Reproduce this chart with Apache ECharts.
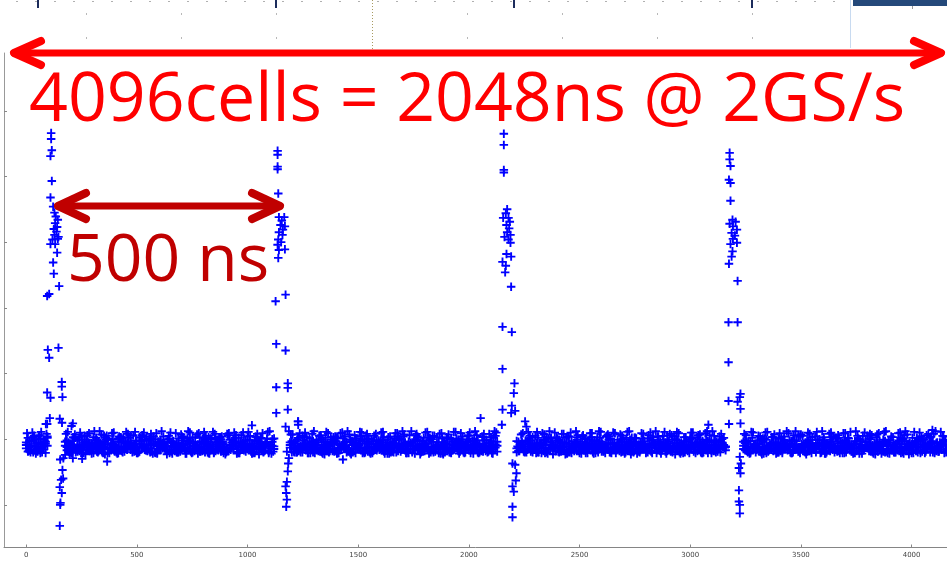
<!DOCTYPE html>
<html><head><meta charset="utf-8">
<script src="https://cdn.jsdelivr.net/npm/echarts@6/dist/echarts.min.js"></script>
<style>html,body{margin:0;padding:0;background:#fff;}#c{width:947px;height:562px;}</style>
</head><body><div id="c"></div>
<script>
// ---- data ----
const CELL_STEP = 16;   // sample spacing (cells) of the overlaid baseline traces
const OFFSET_D = 8, OFFSET_G = 4, OFFSET_H = 12; // sampling phase of the other trace groups
const xTicks = [0, 500, 1000, 1500, 2000, 2500, 3000, 3500, 4000];
const yTicks = [-100, 0, 100, 200, 300, 400, 500];

// group 1 traces (cells 0,16,32,...)
const traceA = [
 -5,-12,3,-18,-8,-1,4,null,null,null,null,-10,-19,-3,-14,2,-9,-16,-6,-21,
 -2,-11,5,-15,-7,-19,-4,1,-13,-8,-20,-6,3,-12,-17,-1,-9,-22,-5,-14,
 0,-10,-18,-7,4,-13,-3,-20,-9,-15,2,-6,-17,-11,-1,-19,-8,6,-14,-4,
 -21,-10,-2,-16,-7,3,-12,-18,-5,-9,1,null,null,null,null,-8,-15,2,-20,-6,
 -11,-3,-17,5,-9,-14,-1,-19,-7,-12,4,-16,-5,-21,-10,0,-13,-8,-18,-2,
 -15,3,-9,-20,-6,-12,-1,-17,-4,-11,6,-14,-19,-7,-2,-16,-10,-22,-5,1,
 -13,-8,-18,-3,-11,5,-15,-6,-20,-9,-1,-14,2,-10,null,null,null,null,null,-12,
 -4,-17,1,-9,-21,-6,-13,3,-16,-8,-2,-19,-11,4,-14,-5,-18,-7,0,-12,
 -20,-3,-10,-15,5,-8,-17,-1,-13,-22,-6,2,-11,-16,-4,-19,-9,3,-14,-7,
 -1,-18,-10,4,-15,-5,-20,-8,1,-12,-17,-3,-13,6,-9,-16,-2,-11,null,null,
 null,null,null,-6,-19,2,-10,-15,-4,-21,-8,3,-13,-18,-1,-11,-7,-16,5,-12,
 -20,-3,-9,-14,0,-17,-6,-12,4,-19,-10,-2,-15,-8,-21,1,-13,-5,-18,-9,
 3,-16,-7,-11,-1,-20,-4,-14,6,-10,-17,-3,-12,-8,-19,2,-15,-6,-11,-2,-18
];
const traceB = [
 -14,-3,-20,-7,1,-16,-10,null,null,null,null,-24,-5,-13,3,-18,-8,-1,-15,-11,
 -19,-6,-12,0,-17,-9,-21,-4,-14,2,-10,-18,-7,-13,-2,-20,4,-11,-16,-8,
 -3,-19,-13,1,-9,-22,-6,-15,-11,3,-17,-4,-12,-20,-8,0,-14,-18,-5,-10,
 2,-16,-7,-13,-21,-3,-11,-18,1,-9,-15,null,null,null,null,-20,-4,-12,5,-17,
 -8,-14,-2,-19,-10,-6,3,-15,-21,-11,-4,-17,-9,1,-13,-18,-6,-20,-3,-12,
 -7,-19,-1,-14,-10,4,-16,-8,-21,-5,-12,-17,-3,-11,2,-20,-9,-14,-6,-18,
 0,-10,-15,-7,-20,-2,-13,-9,-18,3,-16,-6,-11,-19,null,null,null,null,null,-4,
 -12,-19,-7,3,-15,-10,-2,-20,-8,-14,1,-17,-5,-11,-21,-6,-13,4,-18,-9,
 -3,-16,-11,-19,-6,1,-14,-9,-20,-4,-12,-17,2,-8,-15,-21,-7,-1,-13,-18,
 -10,5,-16,-6,-12,-19,-3,-14,-9,-21,0,-11,-17,-5,-13,-8,-20,2,null,null,
 null,null,null,-17,-3,-12,-20,-8,1,-14,-10,-18,-5,-15,4,-9,-21,-2,-13,-7,
 -11,-18,3,-6,-15,-9,-20,-1,-13,-17,-4,-10,2,-19,-7,-14,-22,-3,-11,-16,
 -8,-13,-1,-19,-5,-10,-17,2,-14,-7,-21,-4,-12,0,-16,-9,-3,-18,-13,4,-10
];
const traceC = [
 -9,-17,-2,-11,-21,-6,2,null,null,null,null,-4,-15,-9,-20,-1,-13,-7,-18,3,
 -10,-16,-4,-21,-8,-13,1,-18,-6,-11,-15,-2,-19,-9,4,-14,-7,-20,-3,-12,
 -17,-5,-11,-20,-2,-8,-16,3,-13,-19,-7,-10,1,-21,-4,-15,-12,-18,-9,2,
 -13,-6,-19,-1,-10,-15,-4,-20,-8,-14,-11,null,null,null,null,-3,-10,-18,-7,-13,
 1,-20,-9,-13,-4,-18,-11,-6,2,-16,-10,-19,-3,-14,-8,-21,5,-12,-7,-17,
 -4,-13,-22,-8,1,-18,-10,-5,-15,-20,-2,-9,-13,-6,-19,-11,3,-16,-12,-8,
 -21,-5,-1,-14,-9,-17,-3,-12,-7,-19,-13,-10,-16,-4,null,null,null,null,null,-18,
 -9,-2,-14,-20,-6,-11,-18,-4,1,-13,-10,-7,-16,-20,-3,-12,-8,-15,-21,-1,
 -11,-7,2,-18,-13,-20,-5,-10,-3,-15,-9,-19,-6,-12,1,-14,-17,-8,-21,-4,
 -13,-7,-19,-11,-2,-9,-14,-17,-5,-6,-10,-21,-1,-15,-18,-4,-12,-9,null,null,
 null,null,null,-2,-11,-14,-7,-19,-12,-1,-16,-9,-20,-6,-13,-17,-3,-10,-19,-14,
 -5,-9,-15,-20,-7,-2,-12,-18,-10,-6,-14,-21,-8,-13,-3,-17,-9,-11,1,-20,
 -13,-4,-19,-7,-15,-9,-12,-21,-3,-16,-8,-13,-1,-19,-6,-11,-20,-14,-5,-9,-15
];
// group 2 traces (cells 8,24,40,...)
const traceD = [
 -8,-16,0,-12,-20,-4,null,null,null,null,null,-17,-7,-13,-1,-21,-10,-5,-15,-2,
 -18,-9,2,-14,-6,-20,-11,-3,-16,5,-8,-19,-12,-1,-15,-7,-21,-4,-10,-17,
 1,-13,-6,-19,-9,-2,-16,-11,-22,-5,-14,3,-8,-18,-12,-4,-20,-1,-15,-10,
 -7,-17,4,-12,-21,-3,-14,-9,-19,0,null,null,null,null,-13,-6,-20,-10,-2,-16,
 -11,-21,-5,-15,2,-9,-18,-3,-13,-7,-20,-1,-16,-10,4,-14,-6,-19,-12,-2,
 -17,-8,-22,-4,-13,1,-10,-18,-6,-15,-1,-20,-9,3,-12,-16,-5,-21,-7,-14,
 -3,-11,-19,-8,0,-15,-6,-20,-12,-2,-17,-9,5,null,null,null,null,null,-14,-7,
 -19,-4,-11,-16,2,-9,-21,-13,-5,-18,-1,-12,-7,-20,-15,3,-10,-17,-6,-14,
 -2,-20,-8,-13,4,-17,-11,-5,-19,-9,-1,-15,-22,-6,-12,1,-18,-10,-3,-16,
 -7,-13,-20,0,-11,-17,-4,-9,-19,3,-14,-6,-21,-10,-2,-15,-8,-12,null,null,
 null,null,-10,-18,-3,-14,-7,-20,1,-12,-16,-5,-11,-21,-9,-2,-17,-13,4,-8,
 -19,-6,-15,-1,-11,-22,-9,-4,-16,2,-13,-20,-7,-10,-18,-3,-14,5,-12,-17,
 -5,-10,-20,-2,-15,-8,-18,1,-12,-6,-21,-11,-3,-16,-9,4,-13,-19,-7,-1
];
const traceE = [
 -19,-2,-11,4,-15,-7,null,null,null,null,null,-12,-20,2,-9,-16,-4,-13,-22,-6,
 -3,-14,-8,-21,-1,-12,-17,3,-10,-5,-19,-13,-2,-16,-9,1,-20,-7,-14,-11,
 -16,-6,-20,-10,2,-14,-4,-18,-8,-12,-1,-21,-15,-5,3,-11,-17,-9,-2,-19,
 -12,-3,-15,-8,-20,-6,1,-17,-11,-4,null,null,null,null,-9,-19,-1,-14,-7,-21,
 -4,-13,-18,-1,-10,-20,-7,2,-15,-11,-5,-19,-8,-14,-2,-21,-12,0,-16,-9,
 -1,-18,-11,-6,-20,-14,4,-9,-16,-3,-12,-19,-7,-15,0,-10,-21,-5,-13,-8,
 -17,1,-12,-20,-5,-9,-15,-2,-18,-11,-6,-21,-13,null,null,null,null,null,-3,-10,
 -8,-16,-2,-12,-20,-6,-14,1,-10,-18,-4,-13,-21,-7,-11,-1,-17,-9,-15,3,
 -14,-6,-19,-10,-1,-16,-21,-8,-12,2,-18,-4,-11,-15,-7,-20,-2,-13,-9,-17,
 -5,-16,-1,-12,-20,-8,-14,2,-10,-18,-6,-13,-3,-21,-9,-15,0,-11,null,null,
 null,null,-15,-4,-19,-8,-12,-1,-17,-10,3,-14,-20,-6,-11,-16,-2,-9,-21,-13,
 -7,-1,-16,-11,-20,-4,-13,-9,2,-18,-6,-15,-10,-22,-3,-12,-17,-8,0,-14,
 -19,-9,-3,-15,-11,-20,-6,-1,-17,-13,-8,2,-21,-10,-14,-4,-18,-12,-6,-16
];
const traceF = [
 2,-10,-17,-5,-13,-21,null,null,null,null,null,-2,-15,-8,-19,-11,5,-16,-6,-12,
 -7,-20,-1,-14,-9,-18,3,-12,-5,-16,-10,-21,-3,-13,-8,-19,0,-15,-6,-11,
 -21,-3,-12,-17,-7,1,-19,-10,-14,-4,-20,-9,-15,2,-11,-6,-18,-13,-1,-22,
 -5,-14,-9,-19,-2,-12,-17,-7,-21,-10,null,null,null,null,-5,-15,-12,-20,3,-11,
 -17,-6,-1,-20,-12,-15,-4,-18,-9,1,-13,-21,-6,-11,-17,-3,-19,-8,-14,-5,
 -11,-5,-16,-19,-2,-13,-8,-21,-10,-15,4,-7,-18,-12,-4,-19,-9,1,-15,-20,
 -9,-14,-4,-17,-12,-21,1,-7,-16,-10,-19,-3,-8,null,null,null,null,null,-20,-13,
 -11,-3,-19,-7,-14,-21,-1,-16,-9,-12,-20,-5,2,-15,-10,-18,-4,-13,-21,-7,
 -9,-13,-4,-21,-15,-7,-11,-18,0,-14,-5,-20,-9,-16,-3,-12,-19,-6,4,-10,
 -19,-3,-11,-15,-8,-21,-12,-1,-16,-6,-20,-9,-14,-2,-18,-11,-5,-17,null,null,
 null,null,-4,-13,-21,-9,-2,-16,-11,-19,-6,-14,1,-18,-8,-12,-20,-3,-15,-10,
 -2,-17,-12,-6,-20,-14,-9,3,-16,-11,-21,-4,-13,-18,-7,-1,-15,-10,-19,-6,
 -12,-22,-5,-9,-17,-13,-2,-20,-8,-15,-11,-4,-18,-1,-14,-7,-21,-10,-16,-3
];
// group 3 traces (cells 4,20,36,... and 12,28,44,...), wider excursions
const traceG = [
 9,-20,5,-19,11,-3,null,null,null,null,null,8,-22,3,-17,10,-21,6,-13,12,
 -20,7,-23,1,9,-15,4,-20,11,-9,6,-21,2,10,-18,8,-20,-4,12,-16,
 5,-22,9,-12,3,-22,10,-6,7,-19,11,-20,0,8,-17,4,-23,9,-10,6,
 -21,10,-14,5,-20,8,2,-18,11,-22,null,null,null,null,null,7,-20,9,-8,3,
 -21,12,-16,6,-23,9,-5,4,-21,10,-12,7,-20,1,11,-19,8,-22,5,-14,
 10,-22,3,-18,9,-7,12,-21,6,-15,8,-23,2,11,-20,5,-11,9,-20,7,
 -17,11,-22,4,-9,10,-22,6,-13,8,-20,3,12,null,null,null,null,null,null,-18,
 9,-20,5,-16,11,-6,7,-22,2,10,-19,8,-23,4,-12,12,-21,6,-8,9,
 -22,3,11,-17,7,-21,9,-10,5,-20,12,-14,1,-20,8,-18,10,-6,4,-22,
 11,-15,6,-23,9,-11,3,-21,10,-8,7,-20,12,-17,5,-19,8,-13,null,null,
 null,null,null,6,-22,10,-16,4,-22,11,-9,7,-20,2,-14,9,-21,12,-18,5,
 -23,8,-12,11,-21,3,-7,10,-20,6,-17,9,1,-19,12,-22,5,-10,8,-22,
 7,-15,11,-21,4,-20,9,-8,12,-23,2,-18,10,-13,6,-20,8,-5,11,-21
];
const traceH = [
 -18,10,-22,6,-11,8,null,null,null,null,null,11,-21,7,-16,4,-23,9,-9,2,
 12,-21,5,-14,10,-22,3,-19,8,-7,11,-20,6,-17,1,-22,9,-12,4,-23,
 10,-8,-20,7,-15,12,-21,2,9,-18,5,-22,11,-11,3,-21,8,-16,10,-20,
 6,-13,11,-22,4,-23,9,-5,12,-19,null,null,null,null,7,-20,2,-15,10,-21,
 8,-10,5,-22,11,-18,3,-22,9,-14,12,-23,6,-7,10,-20,1,-21,8,-16,
 11,-12,4,-20,9,-19,7,-9,12,-22,2,-17,10,-22,5,-13,8,-23,3,-20,
 11,-6,9,-21,6,-15,12,-21,4,-18,8,-22,10,null,null,null,null,null,-11,7,
 -20,11,-16,5,-20,9,-9,12,-23,3,-13,8,-22,10,-18,6,-22,1,-12,9,
 -21,12,-7,4,-20,10,-17,7,-14,11,-23,2,-19,9,-10,6,-21,12,-15,5,
 -22,8,-12,11,-22,3,-18,10,-8,6,-21,9,-15,12,-20,4,-11,null,null,null,
 null,null,8,-20,11,-13,5,-23,10,-17,3,-22,9,-9,12,-20,6,-15,7,-19,
 10,-21,4,-11,12,-22,8,-16,2,-21,9,-7,11,-20,5,-18,10,-13,6,-23,
 9,-17,12,-22,3,-14,10,-22,7,-10,11,-20,4,-21,8,-12,12,-19,5,-20
];

const pulse1 = [
 [113,466],[113,457],[116,440],[110,431],[116,393],[110,368],[122,354],[128,345],[134,339],[143,334],
 [131,329],[140,323],[137,316],[128,311],[146,308],[143,305],[119,304],[110,297],[131,297],[125,320],
 [140,284],[122,269],[125,252],[149,233],[95,218],[104,221],[146,139],[98,136],[104,124],[161,87],
 [161,80],[95,71],[110,63],[164,64],[107,32],[95,23],[89,23],[152,31],[162,25],[211,24],[205,20],
 [154,-31],[164,-47],[158,-62],[167,-60],[152,-73],[161,-82],[155,-97],[154,-100],[152,-132],
 [168,-29],[211,-29]
];
const pulse2 = [
 [1136,439],[1136,433],[1136,415],[1136,411],[1139,374],[1142,338],[1166,338],[1155,333],[1149,326],[1169,324],
 [1160,319],[1142,315],[1158,311],[1139,304],[1152,300],[1136,296],[1142,288],[1139,276],[1169,289],[1172,220],
 [1127,210],[1130,145],[1172,135],[1130,79],[1182,85],[1182,78],[1182,45],[1130,40],[1172,19],[1187,12],
 [1229,27],[1229,22],
 [1178,-19],[1187,-29],[1184,-37],[1182,-49],[1178,-65],[1172,-72],[1175,-82],[1178,-92],[1175,-103]
];
const pulse3 = [
 [2158,465],[2158,448],[2158,410],[2158,406],[2173,350],[2167,344],[2179,337],[2155,337],[2185,331],[2170,326],
 [2182,321],[2173,315],[2188,311],[2161,308],[2179,304],[2188,299],[2170,282],[2191,278],[2152,270],[2167,264],
 [2164,254],[2191,232],[2152,171],[2194,163],[2152,107],[2206,85],[2203,70],[2152,45],[2194,51],[2191,40],
 [2209,43],[2149,22],[2053,32],[2254,27],[2260,19],
 [2197,-37],[2209,-39],[2215,-52],[2212,-63],[2197,-72],[2203,-80],[2197,-103],[2197,-119]
];
const pulse4 = [
 [3178,436],[3178,426],[3182,416],[3175,395],[3182,390],[3182,363],[3191,334],[3178,328],[3205,331],[3193,324],
 [3211,319],[3187,314],[3202,310],[3193,305],[3211,299],[3182,297],[3191,286],[3187,278],[3175,267],[3214,241],
 [3173,178],[3214,178],[3173,117],[3227,69],[3224,64],[3214,57],[3173,58],[3227,46],[3175,23],[3227,24],
 [3082,22],
 [3224,-27],[3229,-37],[3220,-44],[3227,-52],[3220,-78],[3220,-95],[3224,-100],[3224,-113]
];
const outliers = [[1020,21],[1228,27],[1431,-31],[366,-34],[4094,14],[253,-30]];

const titleText = '4096cells = 2048ns @ 2GS/s';
const spanText = '500 ns';

// ---- build ----
const pts = [];
function addTrace(tr, offset) { tr.forEach((v, i) => { if (v !== null) pts.push([i * CELL_STEP + offset, v]); }); }
[traceA, traceB, traceC].forEach(tr => addTrace(tr, 0));
[traceD, traceE, traceF].forEach(tr => addTrace(tr, OFFSET_D));
addTrace(traceG, OFFSET_G);
addTrace(traceH, OFFSET_H);
[pulse1, pulse2, pulse3, pulse4, outliers].forEach(p => p.forEach(d => pts.push(d)));

const PLUS = 'path://M3.9,0H6.1V3.9H10V6.1H6.1V10H3.9V6.1H0V3.9H3.9Z';

const gfx = [];
// faint strip of the chart above
[86,181,276,467,562,657,752].forEach(x => gfx.push({type:'line', silent:true, z:1,
  shape:{x1:x+0.5,y1:13,x2:x+0.5,y2:50}, style:{stroke:'#b8b8b8', lineWidth:1, lineDash:[2,22]}}));
gfx.push({type:'line', silent:true, z:1, shape:{x1:372.5,y1:0,x2:372.5,y2:50}, style:{stroke:'#a89a60', lineWidth:1, lineDash:[1,2]}});
gfx.push({type:'line', silent:true, z:1, shape:{x1:16,y1:1.5,x2:850,y2:1.5}, style:{stroke:'#b0b0b0', lineWidth:1, lineDash:[2,17]}});
[38,276,514,752].forEach(x => gfx.push({type:'line', silent:true, z:1,
  shape:{x1:x,y1:0,x2:x,y2:8}, style:{stroke:'#1c2c5c', lineWidth:2}}));
gfx.push({type:'line', silent:true, z:1, shape:{x1:850.5,y1:0,x2:850.5,y2:48}, style:{stroke:'#c8daf0', lineWidth:1}});
gfx.push({type:'rect', silent:true, z:1, shape:{x:853,y:0,width:94,height:6}, style:{fill:'#24497a'}});
gfx.push({type:'line', silent:true, z:1, shape:{x1:912.5,y1:6,x2:912.5,y2:9}, style:{stroke:'#999', lineWidth:1}});

// annotations
const red = '#ff0000', dred = '#c00000';
function arrow(x1, x2, y, head, hh, color, w) {
  gfx.push({type:'polyline', silent:true, z:100, shape:{points:[[x1,y],[x2,y]]},
    style:{stroke:color, lineWidth:w, lineCap:'round', fill:null}});
  gfx.push({type:'polyline', silent:true, z:100, shape:{points:[[x1+head,y-hh],[x1,y],[x1+head,y+hh]]},
    style:{stroke:color, lineWidth:w+1, lineCap:'round', lineJoin:'round', fill:null}});
  gfx.push({type:'polyline', silent:true, z:100, shape:{points:[[x2-head,y-hh],[x2,y],[x2-head,y+hh]]},
    style:{stroke:color, lineWidth:w+1, lineCap:'round', lineJoin:'round', fill:null}});
}
arrow(14, 941, 53, 27, 12, red, 7);
arrow(58, 280, 206, 28, 13, dred, 7);
gfx.push({type:'text', silent:true, z:101, x:29, y:102,
  style:{text:titleText, font:'68px "Open Sans"', fill:red, textVerticalAlign:'middle', verticalAlign:'middle'}});
gfx.push({type:'text', silent:true, z:101, x:67, y:262,
  style:{text:spanText, font:'66px "Open Sans"', fill:dred, textVerticalAlign:'middle', verticalAlign:'middle'}});

const chart = echarts.init(document.getElementById('c'), null, {renderer:'canvas'});
chart.setOption({
  animation:false,
  backgroundColor:'#ffffff',
  grid:{left:4, top:53, right:0, bottom:14.5, containLabel:false},
  xAxis:{type:'value', min:-100, max:4160,
    axisLine:{show:true, onZero:false, lineStyle:{color:'#858585', width:1}},
    axisTick:{show:true, inside:true, length:3, customValues:xTicks, lineStyle:{color:'#888'}},
    axisLabel:{show:true, customValues:xTicks, fontSize:7, color:'#444', margin:4, fontFamily:'DejaVu Sans',
      formatter: v => String(v)},
    splitLine:{show:false}},
  yAxis:{type:'value', min:-165, max:588,
    axisLine:{show:true, onZero:false, lineStyle:{color:'#999', width:1}},
    axisTick:{show:true, inside:true, length:3, customValues:yTicks, lineStyle:{color:'#888'}},
    axisLabel:{show:false},
    splitLine:{show:false}},
  series:[{type:'scatter', data:pts, symbol:PLUS, symbolSize:8.5, silent:true, clip:true,
    itemStyle:{color:'#0000ff', opacity:1}}],
  graphic:gfx
});
</script></body></html>
